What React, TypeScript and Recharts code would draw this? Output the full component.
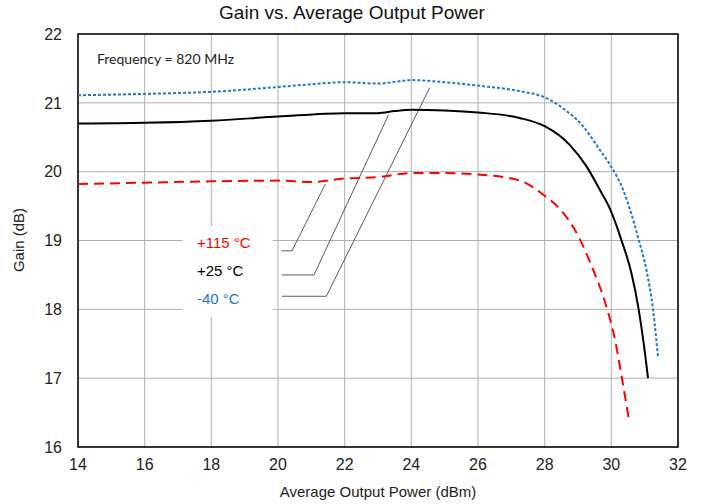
import {
  LineChart,
  Line,
  XAxis,
  YAxis,
  CartesianGrid,
  ReferenceArea,
} from "recharts";

const xTicks = [14, 16, 18, 20, 22, 24, 26, 28, 30, 32];
const yTicks = [16, 17, 18, 19, 20, 21, 22];

// -40 °C
const coldData = [
  { p: 14, g: 21.11 },
  { p: 16, g: 21.13 },
  { p: 18, g: 21.16 },
  { p: 20, g: 21.23 },
  { p: 21, g: 21.27 },
  { p: 22, g: 21.3 },
  { p: 23, g: 21.28 },
  { p: 24, g: 21.33 },
  { p: 25, g: 21.3 },
  { p: 26, g: 21.25 },
  { p: 27.25, g: 21.17 },
  { p: 28, g: 21.08 },
  { p: 28.55, g: 20.92 },
  { p: 29.15, g: 20.66 },
  { p: 29.65, g: 20.32 },
  { p: 29.96, g: 20.1 },
  { p: 30.35, g: 19.74 },
  { p: 30.8, g: 19.05 },
  { p: 31.07, g: 18.53 },
  { p: 31.25, g: 18.0 },
  { p: 31.35, g: 17.56 },
  { p: 31.4, g: 17.31 },
];

// +25 °C
const roomData = [
  { p: 14, g: 20.7 },
  { p: 16, g: 20.71 },
  { p: 18, g: 20.74 },
  { p: 20, g: 20.8 },
  { p: 22, g: 20.85 },
  { p: 23, g: 20.85 },
  { p: 23.5, g: 20.88 },
  { p: 24, g: 20.9 },
  { p: 25, g: 20.89 },
  { p: 26, g: 20.86 },
  { p: 27.25, g: 20.78 },
  { p: 28, g: 20.66 },
  { p: 28.75, g: 20.39 },
  { p: 29.25, g: 20.08 },
  { p: 29.65, g: 19.74 },
  { p: 29.95, g: 19.47 },
  { p: 30.3, g: 19.01 },
  { p: 30.6, g: 18.53 },
  { p: 30.82, g: 18.0 },
  { p: 30.97, g: 17.51 },
  { p: 31.1, g: 17.0 },
];

// +115 °C
const hotData = [
  { p: 14, g: 19.82 },
  { p: 16, g: 19.84 },
  { p: 18, g: 19.86 },
  { p: 20, g: 19.87 },
  { p: 21, g: 19.85 },
  { p: 22, g: 19.9 },
  { p: 23, g: 19.92 },
  { p: 24, g: 19.98 },
  { p: 25, g: 19.98 },
  { p: 26, g: 19.96 },
  { p: 27.25, g: 19.87 },
  { p: 28, g: 19.65 },
  { p: 28.45, g: 19.46 },
  { p: 28.9, g: 19.16 },
  { p: 29.45, g: 18.58 },
  { p: 29.8, g: 18.12 },
  { p: 30.13, g: 17.51 },
  { p: 30.3, g: 17.05 },
  { p: 30.52, g: 16.42 },
];

// leader lines from the labels to the curves
const hotLeader = [
  { p: 20.1, g: 18.85 },
  { p: 20.42, g: 18.85 },
  { p: 21.42, g: 19.82 },
];
const roomLeader = [
  { p: 20.12, g: 18.5 },
  { p: 21.08, g: 18.5 },
  { p: 23.32, g: 20.83 },
];
const coldLeader = [
  { p: 20.12, g: 18.19 },
  { p: 21.45, g: 18.19 },
  { p: 24.55, g: 21.22 },
];

const labels = [
  { text: "+115 °C", color: "#ff0000", top: 234 },
  { text: "+25 °C", color: "#000000", top: 262 },
  { text: "-40 °C", color: "#1f78c8", top: 290 },
];

const font = "'Liberation Sans', Arial, sans-serif";

export default function App() {
  return (
    <div
      style={{
        position: "absolute",
        left: 0,
        top: 0,
        width: 704,
        height: 504,
        background: "#fff",
        fontFamily: font,
      }}
    >
      <LineChart
        width={704}
        height={504}
        margin={{ top: 34, right: 26, bottom: 0, left: 0 }}
      >
        <CartesianGrid stroke="#b0b0b0" strokeWidth={1} />
        <XAxis
          dataKey="p"
          type="number"
          domain={[14, 32]}
          ticks={xTicks}
          height={57}
          axisLine={false}
          tickLine={false}
          tickMargin={6}
          tick={{ fontSize: 16, fill: "#222", fontFamily: font }}
          label={{
            value: "Average Output Power (dBm)",
            position: "insideBottom",
            offset: 7,
            style: { fontSize: 15, fill: "#222", fontFamily: font },
          }}
          allowDuplicatedCategory={false}
        />
        <YAxis
          dataKey="g"
          type="number"
          domain={[16, 22]}
          ticks={yTicks}
          width={78}
          axisLine={false}
          tickLine={false}
          tickMargin={10}
          tick={{ fontSize: 16, fill: "#222", fontFamily: font }}
        />
        <ReferenceArea
          x1={17.14}
          x2={19.84}
          y1={17.88}
          y2={19.21}
          fill="#fff"
          fillOpacity={1}
          stroke="none"
        />
        <ReferenceArea
          x1={14}
          x2={32}
          y1={16}
          y2={22}
          fill="none"
          stroke="#000"
          strokeWidth={1.5}
        />
        <Line data={hotLeader} dataKey="g" stroke="#595959" strokeWidth={1} dot={false} isAnimationActive={false} />
        <Line data={roomLeader} dataKey="g" stroke="#595959" strokeWidth={1} dot={false} isAnimationActive={false} />
        <Line data={coldLeader} dataKey="g" stroke="#595959" strokeWidth={1} dot={false} isAnimationActive={false} />
        <Line
          data={coldData}
          dataKey="g"
          type="monotone"
          stroke="#1f78c8"
          strokeWidth={2}
          strokeDasharray="3 2"
          dot={false}
          isAnimationActive={false}
        />
        <Line
          data={roomData}
          dataKey="g"
          type="monotone"
          stroke="#000"
          strokeWidth={2}
          dot={false}
          isAnimationActive={false}
        />
        <Line
          data={hotData}
          dataKey="g"
          type="monotone"
          stroke="#ff0000"
          strokeWidth={2}
          strokeDasharray="10 6"
          dot={false}
          isAnimationActive={false}
        />
      </LineChart>

      <div
        style={{
          position: "absolute",
          left: 0,
          width: 704,
          top: 2,
          textAlign: "center",
          fontSize: 19,
          color: "#111",
        }}
      >
        Gain vs. Average Output Power
      </div>
      <div
        style={{
          position: "absolute",
          left: 18,
          top: 240,
          fontSize: 15,
          color: "#222",
          whiteSpace: "nowrap",
          transform: "translate(-50%, -50%) rotate(-90deg)",
        }}
      >
        Gain (dB)
      </div>
      <div
        style={{
          position: "absolute",
          left: 97,
          top: 50,
          fontSize: 14,
          fontFamily: "Lato, 'Open Sans', sans-serif",
          color: "#222",
        }}
      >
        Frequency = 820 MHz
      </div>
      {labels.map((l) => (
        <div
          key={l.text}
          style={{
            position: "absolute",
            left: 197,
            top: l.top,
            fontSize: 15,
            color: l.color,
            whiteSpace: "nowrap",
          }}
        >
          {l.text}
        </div>
      ))}
    </div>
  );
}
